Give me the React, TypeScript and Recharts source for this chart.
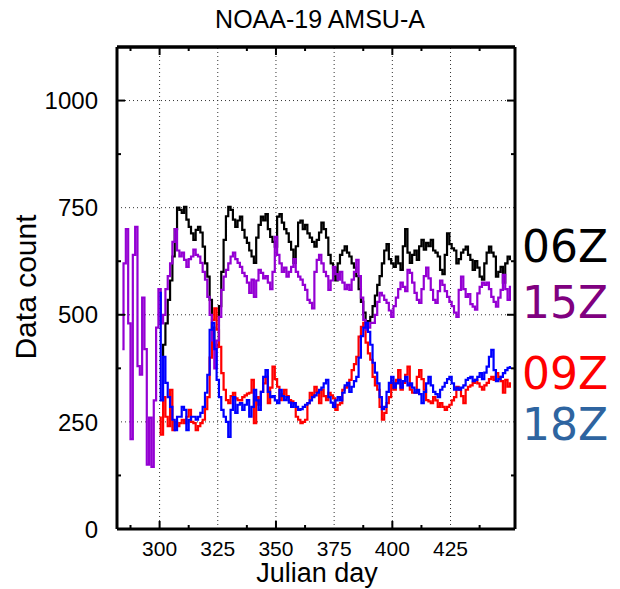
import React from 'react'
import { ComposedChart, Line, XAxis, YAxis, ReferenceLine } from 'recharts'

const chartTitle = 'NOAA-19 AMSU-A'
const xTitle = 'Julian day'
const yTitle = 'Data count'

// x categories: one point per Julian day
const firstDay = 284
const lastDay = 451

const xTicks = [287.5, 300, 312.5, 325, 337.5, 350, 362.5, 375, 387.5, 400, 412.5, 425, 437.5]
const xGrid = [300, 325, 350, 375, 400, 425]
const yTicks = [0, 125, 250, 375, 500, 625, 750, 875, 1000]
const yGrid = [250, 500, 750, 1000]

// 06Z (black), starts day 301
const start06 = 301
const count06 = [
  400, 430, 480, 535, 580, 636, 700, 750, 745, 738, 752, 722, 705, 690, 675, 698, 705, 692, 659, 620,
  589, 535, 470, 425, 430, 520, 600, 675, 730, 752, 745, 722, 705, 720, 729, 698, 680, 668, 650, 636, 621,
  680, 710, 729, 720, 735, 700, 682, 670, 659, 729, 735, 715, 700, 690, 670, 652, 621, 660, 715, 720,
  700, 710, 690, 680, 670, 659, 675, 692,
  715, 700, 680, 640, 620, 610, 580, 620, 640, 650, 660, 645, 636, 620, 610, 590, 560, 530, 505, 480,
  485, 495, 520, 545, 570, 590, 620, 650, 665,
  630, 620, 612, 636, 620, 605, 660, 700, 645, 621, 640, 650, 628, 660, 675, 652, 668, 660, 675, 650,
  645, 636, 605, 595, 640, 690, 665, 655, 650, 620, 630, 645, 652, 659, 640, 628, 605, 625, 610, 589,
  582, 620, 645, 659, 645, 636, 589, 600, 612, 575, 620, 636, 630,
]

// 09Z (red), starts day 300
const start09 = 300
const count09 = [
  260, 220, 308, 262, 240, 325, 231, 250, 240, 247, 255, 247, 262, 278, 250, 247, 231, 240, 247, 255,
  280, 308, 400, 488, 515, 465, 425, 364, 325, 301, 294, 310, 318, 305, 301, 300, 308, 312, 316, 318,
  348, 247, 308, 290, 320, 340, 355, 294, 330, 379, 350, 332, 301, 315, 325, 310, 301, 298, 294, 262,
  255, 247, 250, 255, 294, 318, 310, 332, 320, 294,
  325, 310, 301, 318, 312, 305, 278, 290, 294, 325, 330, 332, 348, 371, 385, 402, 449, 472, 481, 435,
  410, 395, 355, 335, 325, 285, 255, 271, 294,
  308, 341, 325, 348, 371, 325, 341, 360, 379, 325, 318, 318, 355, 371, 350, 325, 301, 298, 294, 308,
  300, 285, 294, 285, 278, 285, 290, 300, 308, 332, 325, 310, 294, 325, 332, 335, 341, 348, 340, 332,
  325, 335, 341, 350, 355, 348, 364, 355, 345, 318, 348, 332, 340,
]

// 15Z (purple), starts day 284
const start15 = 284
const count15 = [
  420, 620, 700, 480, 210, 640, 705, 380, 360, 540, 420, 150, 260, 145, 300, 470,
  560, 480, 500, 560, 590, 620, 670, 700, 650, 636, 645, 628, 612, 630, 636, 652, 640, 636, 621, 600,
  582, 542, 500, 440, 375, 440, 495, 558, 589, 605, 620, 636, 645, 630, 621, 612, 598, 590, 575, 551,
  582, 542, 580, 605, 598, 585, 590, 575, 560, 600, 682, 640, 620, 600, 610, 589, 600, 612, 630, 600,
  589, 582, 570, 558, 535, 528, 515, 600, 628, 640,
  620, 600, 590, 558, 580, 612, 595, 582, 600, 575, 560, 570, 558, 582, 600, 628, 590, 540, 488, 465,
  470, 481, 481, 500, 530, 551, 545, 535, 528,
  510, 495, 520, 540, 560, 575, 565, 555, 605, 598, 575, 551, 535, 528, 560, 590, 610, 585, 558, 535,
  528, 555, 580, 570, 555, 542, 530, 520, 505, 495,
  558, 589, 560, 542, 548, 525, 519, 512, 550, 565, 575, 570, 575, 560, 542, 530, 519, 540, 558, 593,
  560, 535, 565,
]

// 18Z (blue), starts day 300
const start18 = 300
const count18 = [
  551, 300, 402, 341, 308, 285, 255, 231, 262, 262, 285, 278, 231, 255, 262, 262, 255, 262, 271, 285,
  318, 360, 465, 481, 420, 348, 308, 278, 262, 250, 215, 278, 308, 271, 290, 294, 278, 290, 301, 262,
  285, 325, 300, 278, 320, 355, 371, 320, 308, 310, 300, 294, 325, 310, 301, 308, 295, 285, 294, 285,
  278, 280, 285, 290, 294, 300, 308, 312, 318, 325,
  330, 340, 348, 308, 295, 285, 300, 308, 300, 318, 335, 341, 320, 332, 345, 355, 400, 450, 470, 481,
  460, 430, 388, 365, 340, 308, 280, 285, 320,
  341, 355, 330, 340, 348, 330, 345, 355, 335, 340, 330, 318, 325, 315, 294, 320, 340, 355, 335, 320,
  315, 308, 325, 332, 341, 350, 355, 340, 325, 330, 325, 330, 335, 348, 352, 355, 345, 348, 355, 364,
  350, 365, 379, 402, 418, 371, 345, 350, 355, 364, 371, 376, 378,
]

const pick = (arr: number[], start: number, day: number) => {
  const i = day - start
  return i >= 0 && i < arr.length ? arr[i] : null
}

const data = Array.from({ length: lastDay - firstDay + 1 }, (_, i) => {
  const day = firstDay + i
  return {
    day,
    s06: pick(count06, start06, day),
    s09: pick(count09, start09, day),
    s15: pick(count15, start15, day),
    s18: pick(count18, start18, day),
  }
})

const FONT = '"Liberation Sans", Arial, Helvetica, sans-serif'
const LEGEND_FONT = '"DejaVu Sans", Verdana, sans-serif'

const tickLen = (v: number, major: number, grid: number) =>
  v % major === 0 ? 8 : v % grid === 0 ? 0 : 4

function BottomTick({ x, y, payload }: any) {
  const v = payload.value
  const len = tickLen(v, 50, 25)
  return (
    <g>
      {len > 0 && <line x1={x} x2={x} y1={y} y2={y - len} stroke="#000" strokeWidth={2} />}
      {v % 25 === 0 && (
        <text x={x} y={y + 27} textAnchor="middle" fontSize={21} fontFamily={FONT} fill="#000">
          {v}
        </text>
      )}
    </g>
  )
}

function TopTick({ x, y, payload }: any) {
  const len = tickLen(payload.value, 50, 25)
  return len > 0 ? <line x1={x} x2={x} y1={y} y2={y + len} stroke="#000" strokeWidth={2} /> : <g />
}

function LeftTick({ x, y, payload }: any) {
  const v = payload.value
  const len = tickLen(v, 500, 250)
  return (
    <g>
      {len > 0 && <line x1={x} x2={x + len} y1={y} y2={y} stroke="#000" strokeWidth={2} />}
      {v % 250 === 0 && (
        <text x={x - 19} y={y} dy="0.36em" textAnchor="end" fontSize={24} fontFamily={FONT} fill="#000">
          {v}
        </text>
      )}
    </g>
  )
}

function RightTick({ x, y, payload }: any) {
  const len = tickLen(payload.value, 500, 250)
  return len > 0 ? <line x1={x} x2={x - len} y1={y} y2={y} stroke="#000" strokeWidth={2} /> : <g />
}

const legendItems = [
  { label: '06Z', color: '#000000', y: 262 },
  { label: '15Z', color: '#800080', y: 318 },
  { label: '09Z', color: '#ff0000', y: 389 },
  { label: '18Z', color: '#2e64a0', y: 440 },
]

export default function App() {
  const xDomain: [number, number] = [281.7, 452.7]
  const yDomain: [number, number] = [0, 1125]
  return (
    <div style={{ position: 'absolute', left: 0, top: 0, width: 620, height: 589, background: '#fff' }}>
      <ComposedChart
        width={620}
        height={589}
        data={data}
        margin={{ top: 27, right: 100, bottom: 0, left: 0 }}
      >
        <XAxis
          xAxisId="b"
          dataKey="day"
          type="number"
          domain={xDomain}
          ticks={xTicks}
          interval={0}
          height={60}
          tickSize={0}
          tickMargin={0}
          tickLine={false}
          tick={<BottomTick />}
          axisLine={{ stroke: '#000', strokeWidth: 3 }}
          allowDataOverflow
        />
        <XAxis
          xAxisId="t"
          dataKey="day"
          orientation="top"
          type="number"
          domain={xDomain}
          ticks={xTicks}
          interval={0}
          height={20}
          tickSize={0}
          tickMargin={0}
          tickLine={false}
          tick={<TopTick />}
          axisLine={{ stroke: '#000', strokeWidth: 3 }}
          allowDataOverflow
        />
        <YAxis
          yAxisId="l"
          type="number"
          domain={yDomain}
          ticks={yTicks}
          interval={0}
          width={117}
          tickSize={0}
          tickMargin={0}
          tickLine={false}
          tick={<LeftTick />}
          axisLine={{ stroke: '#000', strokeWidth: 3 }}
          allowDataOverflow
        />
        <YAxis
          yAxisId="r"
          orientation="right"
          type="number"
          domain={yDomain}
          ticks={yTicks}
          interval={0}
          width={5}
          tickSize={0}
          tickMargin={0}
          tickLine={false}
          tick={<RightTick />}
          axisLine={{ stroke: '#000', strokeWidth: 3 }}
          allowDataOverflow
        />

        {xGrid.map((v) => (
          <ReferenceLine key={'x' + v} xAxisId="b" yAxisId="l" x={v} stroke="#333" strokeDasharray="1 3" />
        ))}
        {yGrid.map((v) => (
          <ReferenceLine key={'y' + v} xAxisId="b" yAxisId="l" y={v} stroke="#333" strokeDasharray="1 3" />
        ))}
        <ReferenceLine xAxisId="t" yAxisId="r" y={yDomain[1]} stroke="#000" strokeWidth={3} />

        <Line type="step" xAxisId="b" yAxisId="l" dataKey="s06" stroke="#000000" strokeWidth={2.2} dot={false} isAnimationActive={false} />
        <Line type="step" xAxisId="b" yAxisId="l" dataKey="s09" stroke="#ff0000" strokeWidth={2.2} dot={false} isAnimationActive={false} />
        <Line type="step" xAxisId="b" yAxisId="l" dataKey="s15" stroke="#9400d3" strokeWidth={2.2} dot={false} isAnimationActive={false} />
        <Line type="step" xAxisId="b" yAxisId="l" dataKey="s18" stroke="#0000ff" strokeWidth={2.2} dot={false} isAnimationActive={false} />
      </ComposedChart>

      <svg width={620} height={589} style={{ position: 'absolute', left: 0, top: 0, pointerEvents: 'none' }}>
        <text x={320} y={28} textAnchor="middle" fontSize={25} fontFamily={FONT} fill="#000">
          {chartTitle}
        </text>
        <text x={317} y={582} textAnchor="middle" fontSize={27} fontFamily={FONT} fill="#000">
          {xTitle}
        </text>
        <text
          x={0}
          y={0}
          transform="translate(36 287) rotate(-90)"
          textAnchor="middle"
          fontSize={30}
          fontFamily={FONT}
          fill="#000"
        >
          {yTitle}
        </text>
        {legendItems.map((it) => (
          <text key={it.label} x={522} y={it.y} fontSize={44} fontFamily={LEGEND_FONT} fill={it.color}>
            {it.label}
          </text>
        ))}
      </svg>
    </div>
  )
}
